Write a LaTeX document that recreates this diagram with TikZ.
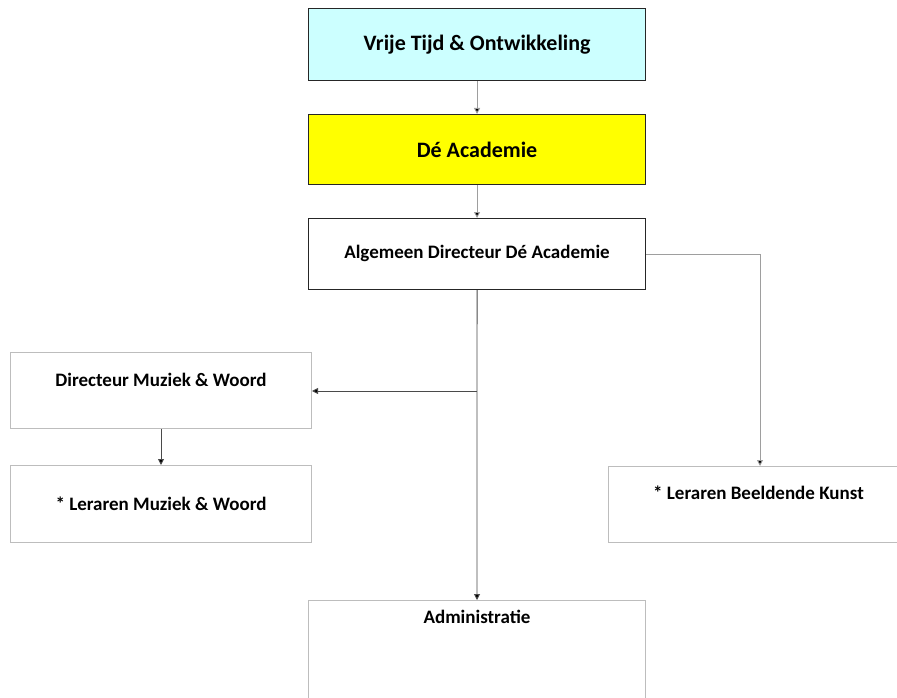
\documentclass[tikz,border=0pt]{standalone}
\usepackage{fontspec}
\setmainfont{Carlito}
\usetikzlibrary{calc,arrows.meta}
\definecolor{cyanfill}{HTML}{CCFFFF}
\definecolor{yellowfill}{HTML}{FFFF00}
\definecolor{darkedge}{HTML}{262626}
\definecolor{greyedge}{HTML}{BDBDBD}
\definecolor{lineA}{HTML}{9E9E9E}
\definecolor{lineB}{HTML}{4A4A4A}
\tikzset{
  x=1pt,y=1pt,
  topbox/.style={draw=darkedge,line width=1.1pt,rectangle,anchor=north west,inner sep=0pt},
  lowbox/.style={draw=greyedge,line width=1pt,rectangle,anchor=north west,inner sep=0pt,fill=white},
  lbl/.style={font=\fontsize{19}{22}\selectfont\bfseries,text=black,inner sep=0pt},
  biglbl/.style={lbl,font=\fontsize{22}{26}\selectfont\bfseries},
  conn/.style={draw=lineA,line width=0.9pt,-{Triangle[length=6pt,width=6pt,fill=black]}},
  connd/.style={draw=lineB,line width=0.9pt,-{Triangle[length=6pt,width=6pt,fill=black]}},
}
\begin{document}
\begin{tikzpicture}
\useasboundingbox (0,0) rectangle (897,-698);
% top boxes
\node[topbox,fill=cyanfill,minimum width=337pt,minimum height=72pt] (b1) at (308,-8) {};
\node[biglbl] (t1) at (b1.center) {Vrije Tijd \& Ontwikkeling};
\node[topbox,fill=yellowfill,minimum width=337pt,minimum height=70pt] (b2) at (308,-114) {};
\node[biglbl] (t2) at (b2.center) {Dé Academie};
\node[topbox,fill=white,minimum width=337pt,minimum height=71pt] (b3) at (308,-218) {};
\node[lbl] (t3) at ($(b3.center)+(0,1)$) {Algemeen Directeur Dé Academie};
% lower boxes
\node[lowbox,minimum width=301pt,minimum height=76pt] (b4) at (10,-352) {};
\node[lbl] (t4) at ($(b4.north)+(0,-28)$) {Directeur Muziek \& Woord};
\node[lowbox,minimum width=301pt,minimum height=77pt] (b5) at (10,-465) {};
\node[lbl] (t5) at ($(b5.north)+(0,-39)$) {* Leraren Muziek \& Woord};
\node[lowbox,minimum width=300pt,minimum height=76pt] (b6) at (608,-466) {};
\node[lbl] (t6) at ($(b6.north)+(0,-27)$) {* Leraren Beeldende Kunst};
\node[lowbox,minimum width=337pt,minimum height=110pt] (b7) at (308,-600) {};
\node[lbl] (t7) at ($(b7.north)+(0,-17)$) {Administratie};
% connectors
\coordinate (k) at (760,0);
\coordinate (j) at (477,-391);
\draw[conn] (b1.south) -- (b2.north);
\draw[conn] (b2.south) -- (b3.north);
\draw[connd] (b3.south) -- (b7.north);
\draw[connd] (b3.south |- j) -- (b4.east |- j);
\draw[conn] (b3.east) -- (k |- b3.east) -- (k |- b6.north);
\draw[connd] (b4.south) -- (b5.north);
\end{tikzpicture}
\end{document}
